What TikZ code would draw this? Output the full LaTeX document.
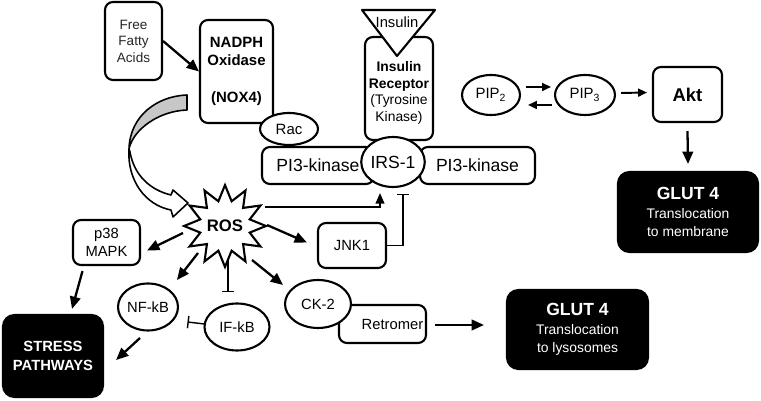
\documentclass[tikz,border=0pt]{standalone}
\usepackage{fontspec}
\setmainfont{Liberation Sans}
\usepackage{tikz}
\usetikzlibrary{arrows.meta,calc,shapes.geometric}

\tikzset{
  box/.style={draw, line width=1.2pt, rounded corners=4.5pt, fill=white, align=center, inner sep=1pt},
  blackbox/.style={draw, line width=1.2pt, rounded corners=6.5pt, fill=black, text=white, align=center, inner sep=1pt},
  oval/.style={draw, ellipse, line width=1.2pt, fill=white, inner sep=0pt, align=center},
  arr/.style={line width=1.3pt, -{Triangle[length=7pt,width=6pt]}},
  smallarr/.style={line width=1.1pt, -{Triangle[length=5pt,width=4.5pt]}},
  inhib/.style={line width=0.8pt, -{Bar[width=7pt,line width=0.8pt]}},
}

\begin{document}
\begin{tikzpicture}[x=0.02cm, y=-0.02cm]
    \useasboundingbox (0,0) rectangle (761,401);

    \draw[line width=0.9pt, fill=black!22, line join=round] (187,95) .. controls (158,96) and (130,115) .. (129,149) .. controls (133,130) and (158,111) .. (187,110) -- cycle;
    \draw[line width=0.9pt, fill=white, line join=round] (129,149) .. controls (127,180) and (145,205) .. (171,210) -- (173,217) -- (188,203) -- (173,190) -- (171,195) .. controls (150,190) and (134,175) .. (130,152) -- cycle;

    \node[box, minimum width=1.14cm, minimum height=1.56cm, font=\fontsize{7.7}{9.4}\selectfont, text=black!85] (ffa) at (133.5,41) {Free\\Fatty\\Acids};
    \node[box, minimum width=1.46cm, minimum height=2.06cm, font=\bfseries\fontsize{8.5}{10.5}\selectfont] (nadph) at (236.5,71.5) {NADPH\\Oxidase\\[10.5pt](NOX4)};
    \node[box, minimum width=2.24cm, minimum height=0.74cm, font=\fontsize{10}{12}\selectfont] (pil) at (318,165.5) {PI3-kinase};
    \node[box, minimum width=2.3cm, minimum height=0.74cm, font=\fontsize{10}{12}\selectfont] (pir) at (477.5,165.5) {PI3-kinase};
    \node[box, minimum width=1.36cm, minimum height=2.06cm] (ir) at (399,88.5) {};
    \node[align=center, font=\fontsize{7.9}{9.4}\selectfont] (irtext) at (399,93) {\textbf{Insulin}\\\textbf{Receptor}\\(Tyrosine\\Kinase)};
    \draw[line width=1.2pt, fill=white, line join=round] (362,10) -- (435,10) -- (397,56) -- cycle;
    \node[font=\fontsize{8.4}{10}\selectfont] (ins) at (397,22) {Insulin};
    \node[oval, minimum width=1.16cm, minimum height=0.64cm, font=\fontsize{8.5}{10}\selectfont] (rac) at (289,129) {Rac};
    \node[oval, minimum width=1.14cm, minimum height=1.0cm, font=\fontsize{10}{12}\selectfont] (irs) at (393,162) {IRS-1};

    \node[oval, minimum width=1.16cm, minimum height=0.8cm, font=\fontsize{8.5}{10}\selectfont] (pip2) at (491,95) {PIP\textsubscript{2}};
    \node[oval, minimum width=1.2cm, minimum height=0.8cm, font=\fontsize{8.5}{10}\selectfont] (pip3) at (585,95) {PIP\textsubscript{3}};
    \node[box, minimum width=1.38cm, minimum height=1.1cm, font=\bfseries\fontsize{10.5}{12}\selectfont] (akt) at (687.5,94.5) {Akt};
    \node[blackbox, minimum width=2.8cm, minimum height=1.6cm, font=\fontsize{7.9}{10.5}\selectfont] (glutm) at (688,212) {{\bfseries\fontsize{10}{12}\selectfont GLUT 4}\\Translocation\\to membrane};

    \node[draw, star, star points=12, star point ratio=1.6, minimum size=1.6cm, inner sep=0pt, line width=1.2pt, fill=white, font=\bfseries\fontsize{9.5}{11}\selectfont] (ros) at (225,226) {ROS};
    \node[box, minimum width=1.34cm, minimum height=0.9cm, font=\fontsize{8.4}{10}\selectfont] (p38) at (106.5,242.5) {p38\\MAPK};
    \node[blackbox, minimum width=2.0cm, minimum height=1.64cm, font=\bfseries\fontsize{8.4}{10.8}\selectfont] (stress) at (53,356) {STRESS\\PATHWAYS};
    \node[oval, minimum width=1.2cm, minimum height=0.94cm, font=\fontsize{8.4}{10}\selectfont] (nfkb) at (148,307) {NF-kB};
    \node[oval, minimum width=1.3cm, minimum height=0.94cm, font=\fontsize{8.4}{10}\selectfont] (ifkb) at (237,327) {IF-kB};
    \node[box, minimum width=1.74cm, minimum height=0.76cm, font=\fontsize{8.4}{10}\selectfont] (retro) at (382.5,324) {\hspace{0.4cm}Retromer};
    \node[oval, minimum width=1.32cm, minimum height=0.96cm, font=\fontsize{8.4}{10}\selectfont] (ck2) at (318,304) {CK-2};
    \node[box, minimum width=1.36cm, minimum height=0.9cm, font=\fontsize{8.4}{10}\selectfont] (jnk) at (352,245.5) {JNK1};
    \node[blackbox, minimum width=2.82cm, minimum height=1.58cm, font=\fontsize{7.9}{10.5}\selectfont] (glutl) at (577.5,329.5) {{\bfseries\fontsize{10}{12}\selectfont GLUT 4}\\Translocation\\to lysosomes};

    \draw[arr] (ffa.east) -- (nadph.west);
    \draw[smallarr] ($(pip2.east)+(5,-8)$) -- ($(pip3.west)+(-3,-8)$);
    \draw[smallarr] ($(pip3.west)+(-2,10)$) -- ($(pip2.east)+(7,10)$);
    \draw[smallarr] ($(pip3.east)+(5,-2)$) -- ($(akt.west)+(-5,-2)$);
    \draw[arr] ($(akt.south)+(0,8)$) -- ($(glutm.north)+(0,-7)$);
    \draw[line width=0.8pt, -{Triangle[length=6pt,width=5pt]}] ($(ros)+(40,-19)$) -| ($(irs.south)+(-13,5)$);
    \draw[inhib] (jnk.east) -| ($(irs.south)+(10,6)$);
    \draw[arr] ($(ros)+(-42,7)$) -- ($(p38.east)+(6,8)$);
    \draw[arr] ($(ros)+(-27,27)$) -- ($(nfkb)+(29,-27)$);
    \draw[inhib] ($(ros)+(3,34)$) -- ($(ifkb)+(-9,-35)$);
    \draw[arr] ($(ros)+(42,-1)$) -- ($(jnk.west)+(-10,-3)$);
    \draw[arr] ($(ros)+(27,34)$) -- ($(ck2)+(-35,-19)$);
    \draw[arr] ($(p38.south)+(-24,5)$) -- ($(stress.north)+(19,-5)$);
    \draw[arr] ($(nfkb)+(-8,31)$) -- ($(stress.east)+(12,4)$);
    \draw[inhib] ($(ifkb.west)+(1,-3)$) -- ($(ifkb.west)+(-16,-5)$);
    \draw[arr] ($(retro.east)+(8,1)$) -- ($(glutl.west |- retro.east)+(-22,1)$);
\end{tikzpicture}
\end{document}
